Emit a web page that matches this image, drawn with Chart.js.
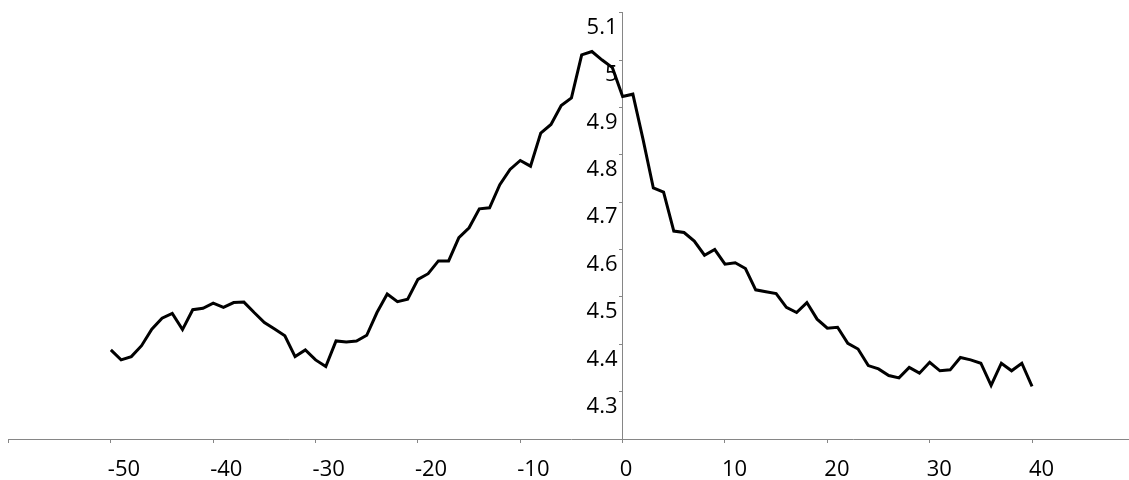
<!DOCTYPE html>
<html>
<head>
<meta charset="utf-8">
<script src="https://cdn.jsdelivr.net/npm/chart.js@4/dist/chart.umd.min.js"></script>
<style>
  html, body { margin: 0; padding: 0; background: #fff; overflow: hidden; }
  #wrap { width: 1140px; height: 480px; }
</style>
</head>
<body>
<div id="wrap"><canvas id="c" width="1140" height="480"></canvas></div>
<script>
const xValues = [-50,-49,-48,-47,-46,-45,-44,-43,-42,-41,-40,-39,-38,-37,-36,-35,-34,-33,-32,-31,
  -30,-29,-28,-27,-26,-25,-24,-23,-22,-21,-20,-19,-18,-17,-16,-15,-14,-13,-12,-11,
  -10,-9,-8,-7,-6,-5,-4,-3,-2,-1,0,1,2,3,4,5,6,7,8,9,
  10,11,12,13,14,15,16,17,18,19,20,21,22,23,24,25,26,27,28,29,
  30,31,32,33,34,35,36,37,38,39,40];
const yValues = [4.388,4.367,4.374,4.397,4.432,4.455,4.465,4.431,4.473,4.476,
  4.487,4.478,4.488,4.489,4.467,4.446,4.432,4.418,4.374,4.388,
  4.367,4.353,4.407,4.405,4.407,4.419,4.467,4.506,4.490,4.495,
  4.537,4.549,4.576,4.576,4.625,4.646,4.686,4.688,4.737,4.769,
  4.788,4.776,4.846,4.864,4.904,4.920,5.011,5.018,5.000,4.984,
  4.923,4.928,4.832,4.730,4.721,4.639,4.636,4.618,4.588,4.600,
  4.569,4.572,4.560,4.515,4.511,4.507,4.478,4.467,4.488,4.453,
  4.434,4.436,4.402,4.390,4.355,4.348,4.334,4.329,4.351,4.339,
  4.362,4.344,4.346,4.372,4.367,4.360,4.313,4.360,4.344,4.360,4.311];
const xTickLabels = ['-50','-40','-30','-20','-10','0','10','20','30','40'];
const yTickLabels = ['4.3','4.4','4.5','4.6','4.7','4.8','4.9','5','5.1'];

const points = xValues.map((x, i) => ({x: x, y: yValues[i]}));
const axisColor = '#868686';
const font = {family: "'Open Sans', sans-serif", size: 22, lineHeight: 1.0};

const yTicksBuild = (s) => {
  const t = [{value: 4.2}];
  yTickLabels.forEach(l => t.push({value: parseFloat(l)}));
  s.ticks = t;
};
const yLabelCb = (v) => {
  const idx = yTickLabels.findIndex(l => Math.abs(parseFloat(l) - v) < 1e-6);
  return idx >= 0 ? yTickLabels[idx] : '';
};

new Chart(document.getElementById('c'), {
  type: 'line',
  data: {
    datasets: [{
      data: points,
      borderColor: '#000',
      borderWidth: 3,
      pointRadius: 0,
      tension: 0,
      fill: false
    }]
  },
  options: {
    responsive: false,
    animation: false,
    layout: { padding: { left: 8.5, right: 5.6, top: 12.7, bottom: 0 } },
    plugins: { legend: { display: false }, tooltip: { enabled: false } },
    scales: {
      x: {
        type: 'linear',
        position: 'bottom',
        min: -60, max: 50,
        afterBuildTicks: (s) => {
          const t = [];
          for (let v = -60; v <= 50; v += 10) t.push({value: v});
          s.ticks = t;
        },
        afterFit: (s) => { s.height = 41; s.paddingLeft = 0; s.paddingRight = 0; },
        grid: { display: true, drawOnChartArea: false, drawTicks: true, tickLength: 4, tickColor: axisColor, tickWidth: 1 },
        border: { display: true, color: axisColor, width: 1 },
        ticks: {
          autoSkip: false,
          maxRotation: 0,
          align: 'start',
          labelOffset: -3,
          padding: 15.5,
          color: '#000',
          font: font,
          callback: (v) => { const s = String(v); return xTickLabels.includes(s) ? s : ''; }
        }
      },
      y: {
        type: 'linear',
        position: { x: 0 },
        min: 4.2, max: 5.1,
        afterBuildTicks: yTicksBuild,
        afterFit: (s) => { s.paddingTop = 0; s.paddingBottom = 0; },
        grid: { display: true, drawOnChartArea: false, drawTicks: true, tickLength: 3, tickColor: axisColor, tickWidth: 1 },
        border: { display: true, color: axisColor, width: 1 },
        ticks: { display: false }
      },
      yLabels: {
        type: 'linear',
        axis: 'y',
        position: { x: -0.5 },
        min: 4.2, max: 5.1,
        afterBuildTicks: yTicksBuild,
        afterFit: (s) => { s.paddingTop = 0; s.paddingBottom = 0; },
        grid: { display: false, drawOnChartArea: false, drawTicks: false },
        border: { display: false },
        ticks: {
          autoSkip: false,
          labelOffset: 15,
          padding: 0,
          color: '#000',
          font: font,
          callback: yLabelCb
        }
      }
    }
  }
});
</script>
</body>
</html>
